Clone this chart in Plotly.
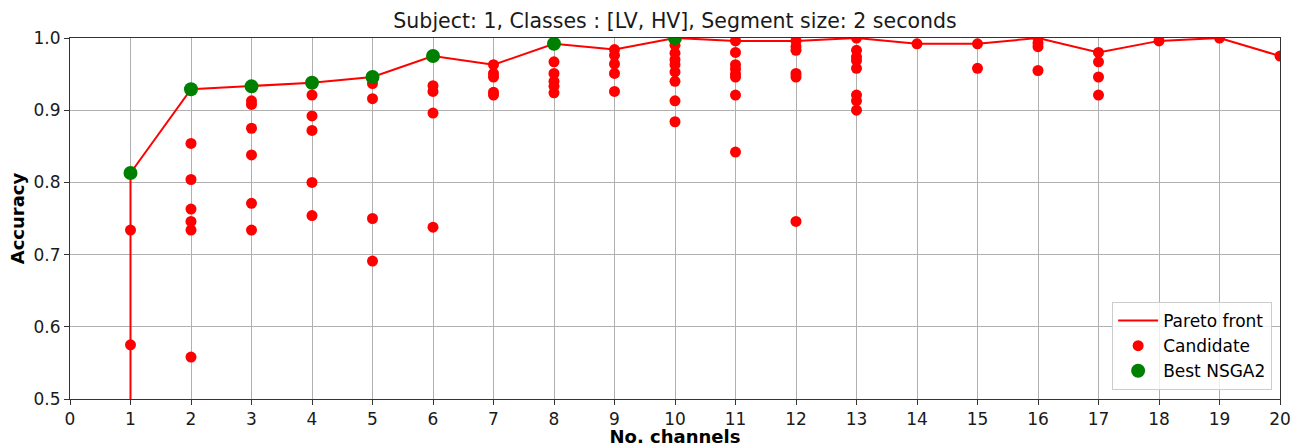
import plotly.graph_objects as go

# Pareto front
pareto_x = [1, 1, 2, 3, 4, 5, 6, 7, 8, 9, 10, 11, 12, 13, 14, 15, 16, 17, 18, 19, 20]
pareto_y = [0.40, 0.813, 0.929, 0.933, 0.938, 0.946, 0.975, 0.963, 0.992, 0.984, 1.0,
            0.996, 0.996, 1.0, 0.992, 0.992, 1.0, 0.980, 0.996, 1.0, 0.975]

# Candidates (channels, accuracy)
cand_x = ([1] * 3 + [2] * 7 + [3] * 7 + [4] * 6 + [5] * 5 + [6] * 5 + [7] * 5 + [8] * 6
          + [9] * 5 + [10] * 9 + [11] * 8 + [12] * 6 + [13] * 8 + [14] * 1 + [15] * 2
          + [16] * 4 + [17] * 4 + [18] * 1 + [19] * 1 + [20] * 1)
cand_y = [0.813, 0.734, 0.575,
          0.929, 0.854, 0.804, 0.763, 0.746, 0.734, 0.558,
          0.933, 0.913, 0.908, 0.875, 0.838, 0.771, 0.734,
          0.938, 0.921, 0.892, 0.872, 0.800, 0.754,
          0.946, 0.937, 0.916, 0.750, 0.691,
          0.975, 0.934, 0.926, 0.896, 0.738,
          0.963, 0.951, 0.946, 0.925, 0.921,
          0.992, 0.967, 0.951, 0.940, 0.933, 0.924,
          0.984, 0.976, 0.964, 0.951, 0.926,
          1.0, 0.990, 0.979, 0.970, 0.963, 0.953, 0.940, 0.913, 0.884,
          0.996, 0.980, 0.963, 0.957, 0.950, 0.946, 0.921, 0.842,
          0.996, 0.988, 0.983, 0.951, 0.946, 0.746,
          1.0, 0.983, 0.974, 0.969, 0.958, 0.921, 0.913, 0.900,
          0.992,
          0.992, 0.958,
          1.0, 0.993, 0.988, 0.955,
          0.980, 0.967, 0.946, 0.921,
          0.996,
          1.0,
          0.975]

# Best NSGA2
best_x = [1, 2, 3, 4, 5, 6, 8, 10]
best_y = [0.813, 0.929, 0.933, 0.938, 0.946, 0.975, 0.992, 1.0]

x_ticks = list(range(0, 21))
y_ticks = [0.5, 0.6, 0.7, 0.8, 0.9, 1.0]

fig = go.Figure()
fig.add_trace(go.Scatter(x=pareto_x, y=pareto_y, mode="lines", name="Pareto front",
                         line=dict(color="red", width=2)))
fig.add_trace(go.Scatter(x=cand_x, y=cand_y, mode="markers", name="Candidate",
                         marker=dict(color="red", size=11, line=dict(width=0))))
fig.add_trace(go.Scatter(x=best_x, y=best_y, mode="markers", name="Best NSGA2",
                         marker=dict(color="green", size=14, line=dict(width=0))))

font_family = "DejaVu Sans"
fig.update_layout(
    width=1304, height=447,
    margin=dict(l=70, r=24, t=38, b=48, autoexpand=False),
    paper_bgcolor="white", plot_bgcolor="white",
    font=dict(family=font_family, size=17, color="black"),
    title=dict(text="Subject: 1, Classes : [LV, HV], Segment size: 2 seconds",
               x=0.5, xref="paper", xanchor="center", y=1, yref="container",
               yanchor="top", pad=dict(t=14),
               font=dict(size=20.5, color="#1a1a1a")),
    showlegend=True,
    legend=dict(x=0.9935, y=0.025, xanchor="right", yanchor="bottom",
                bgcolor="rgba(255,255,255,0.8)", bordercolor="#cccccc", borderwidth=1,
                font=dict(size=17), itemwidth=40, tracegroupgap=0),
)
fig.update_xaxes(
    range=[0, 20], tickvals=x_ticks, ticktext=[str(v) for v in x_ticks],
    showgrid=True, gridcolor="#b0b0b0", gridwidth=1,
    showline=True, linecolor="#333333", linewidth=1, mirror=True,
    ticks="outside", ticklen=5, tickcolor="#333333", zeroline=False,
    tickfont=dict(size=17, color="#1a1a1a"), automargin=False,
    title=dict(text="<b>No. channels</b>", font=dict(size=18), standoff=2),
)
fig.update_yaxes(
    range=[0.5, 1.0], tickvals=y_ticks, ticktext=[f"{v:.1f}" for v in y_ticks],
    showgrid=True, gridcolor="#b0b0b0", gridwidth=1,
    showline=True, linecolor="#333333", linewidth=1, mirror=True,
    ticks="outside", ticklen=5, tickcolor="#333333", zeroline=False,
    tickfont=dict(size=17, color="#1a1a1a"), automargin=False,
    title=dict(text="<b>Accuracy</b>", font=dict(size=18), standoff=4),
)

fig.write_html("out.html", config={"displayModeBar": False},
               post_script="document.body.style.margin='0';document.body.style.padding='0';")
